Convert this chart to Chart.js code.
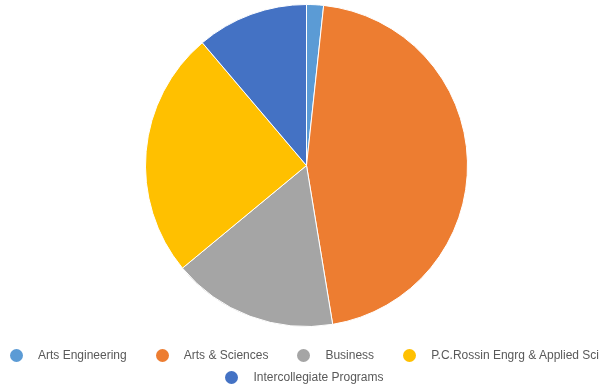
<!DOCTYPE html>
<html>
<head>
<meta charset="utf-8">
<script src="https://cdn.jsdelivr.net/npm/chart.js@4"></script>
<style>
  html, body { margin: 0; padding: 0; background: #fff; }
  #wrap { position: relative; width: 609px; height: 389px; }
  #wrap canvas { position: absolute; left: 0; top: 0; }
  #legend {
    position: absolute; left: 0; top: 344px; width: 609px;
    display: flex; flex-wrap: wrap; justify-content: center; column-gap: 29px;
    font-family: "Liberation Sans", Arial, sans-serif; font-size: 12px;
    line-height: 22px; color: #595959;
  }
  #legend .item { display: flex; align-items: center; white-space: nowrap; }
  #legend .dot { width: 13px; height: 13px; border-radius: 50%; margin-right: 15px; }
</style>
</head>
<body>
<div id="wrap">
  <canvas id="pieChart" width="609" height="389"></canvas>
  <div id="legend"></div>
</div>
<script>
  // Share of students by college (%)
  const colleges = ['Arts Engineering', 'Arts & Sciences', 'Business', 'P.C.Rossin Engrg & Applied Sci', 'Intercollegiate Programs'];
  const shares = [1.7, 45.7, 16.6, 24.8, 11.2];
  const sliceColors = ['#5B9BD5', '#ED7D31', '#A5A5A5', '#FFC000', '#4472C4'];

  const ctx = document.getElementById('pieChart').getContext('2d');
  const pieChart = new Chart(ctx, {
    type: 'pie',
    data: {
      labels: colleges,
      datasets: [
        {
          data: shares,
          backgroundColor: sliceColors,
          borderColor: '#ffffff',
          borderWidth: 1
        }
      ]
    },
    options: {
      responsive: false,
      animation: false,
      layout: {
        padding: { top: 4, left: 4, right: 0, bottom: 62 }
      },
      plugins: {
        legend: { display: false },
        tooltip: { enabled: false }
      }
    }
  });

  // legend below the pie, built from the chart's own labels and colours
  const legendEl = document.getElementById('legend');
  pieChart.data.labels.forEach((label, i) => {
    const item = document.createElement('div');
    item.className = 'item';
    const dot = document.createElement('span');
    dot.className = 'dot';
    dot.style.background = pieChart.data.datasets[0].backgroundColor[i];
    const text = document.createElement('span');
    text.textContent = label;
    item.appendChild(dot);
    item.appendChild(text);
    legendEl.appendChild(item);
  });
</script>
</body>
</html>
